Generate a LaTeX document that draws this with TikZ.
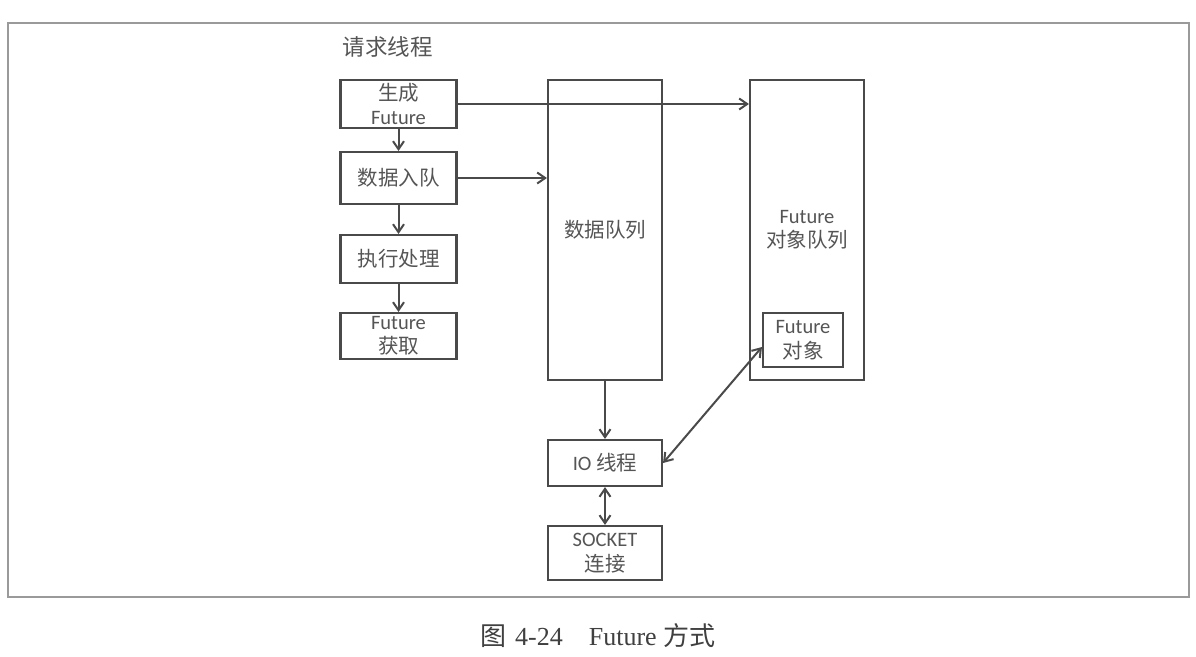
\documentclass[tikz,border=0pt]{standalone}
\usepackage{fontspec}
\setmainfont{Carlito}
\newfontfamily\cjk{Noto Sans CJK SC}
\newfontfamily\capserif{Liberation Serif}
\usetikzlibrary{arrows.meta,calc}
\definecolor{ln}{HTML}{4A4A4A}
\definecolor{tx}{HTML}{555555}
\definecolor{fr}{HTML}{9A9A9A}
\tikzset{
 box/.style={draw=ln, line width=2.1pt, rectangle, inner sep=0pt, align=center, text=tx, font=\fontsize{20.5}{24.5}\selectfont},
 arr/.style={draw=ln, line width=2pt, -{Straight Barb[length=8pt,width=11pt]}},
 darr/.style={draw=ln, line width=2pt, {Straight Barb[length=8pt,width=11pt]}-{Straight Barb[length=8pt,width=11pt]}},
}
\begin{document}
\begin{tikzpicture}[x=1pt,y=-1pt]
\useasboundingbox (0,0) rectangle (1196,656);
\fill[white] (0,0) rectangle (1196,656);
\draw[draw=fr, line width=1.4pt] (8,23) rectangle (1189,597);
\node[text=tx, font=\cjk\fontsize{22.5}{26}\selectfont] (lbl) at (387.5,47) {请求线程};
\node[box, minimum width=116pt, minimum height=48pt] (gen) at (398.5,104) {{\cjk 生成}\\Future};
\node[box, minimum width=116pt, minimum height=52pt] (enq) at (398.5,178) {\cjk 数据入队};
\node[box, minimum width=116pt, minimum height=48pt] (exe) at (398.5,259) {\cjk 执行处理};
\node[box, minimum width=116pt, minimum height=46pt] (get) at (398.5,336) {Future\\{\cjk 获取}};
\node[box, minimum width=114pt, minimum height=300pt] (dq) at (605,230) {\cjk 数据队列};
\node[box, minimum width=114pt, minimum height=300pt] (fq) at (807,230) {Future\\{\cjk 对象队列}};
\node[box, minimum width=80pt, minimum height=54pt] (fobj) at (803,340) {Future\\{\cjk 对象}};
\node[box, minimum width=114pt, minimum height=46pt] (io) at (605,463) {IO {\cjk 线程}};
\node[box, minimum width=114pt, minimum height=54pt] (sock) at (605,553) {SOCKET\\{\cjk 连接}};
\draw[arr] (gen.south) -- (enq.north);
\draw[arr] (enq.south) -- (exe.north);
\draw[arr] (exe.south) -- (get.north);
\draw[arr] (gen.east) -- (gen.east -| fq.west);
\draw[arr] (enq.east) -- (enq.east -| dq.west);
\draw[arr] (dq.south) -- (io.north);
\draw[darr] (io.south) -- (sock.north);
\draw[darr] (io.east) -- ($(fobj.west)+(0,7)$);
\node[text=black!75, font=\fontsize{26}{30}\selectfont] (cap) at (598,636) {{\cjk 图}\hspace{9pt}{\capserif 4-24}\hspace{26pt}{\capserif Future}\hspace{7pt}{\cjk 方式}};
\end{tikzpicture}
\end{document}
